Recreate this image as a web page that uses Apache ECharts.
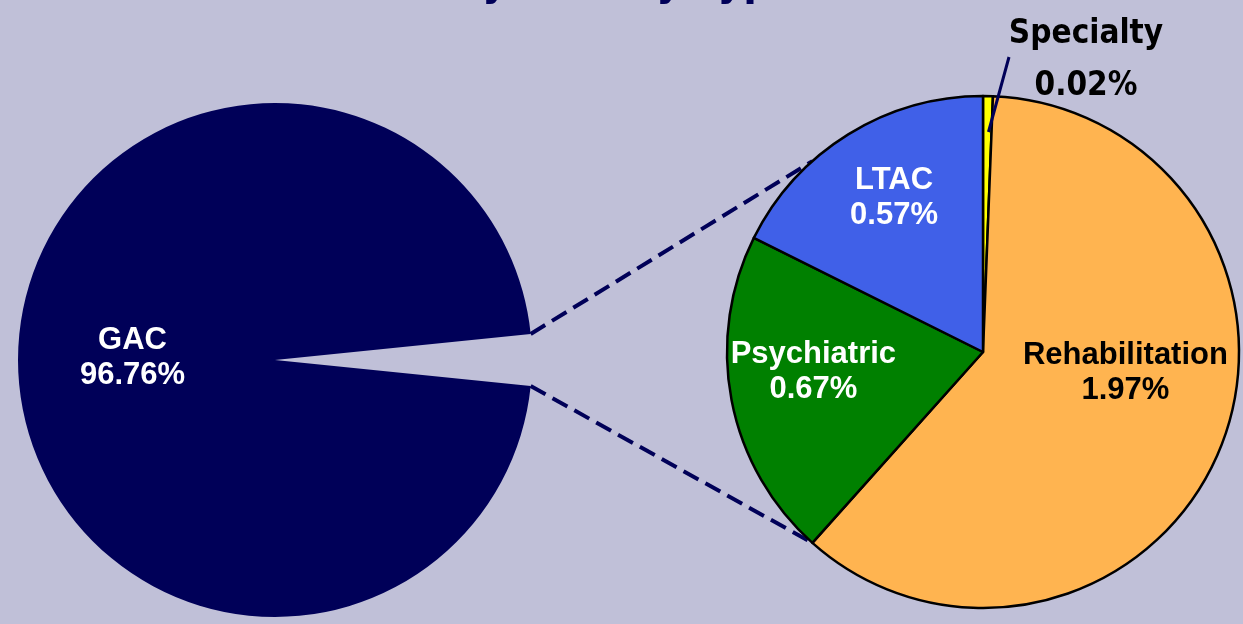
<!DOCTYPE html>
<html>
<head>
<meta charset="utf-8">
<script src="https://cdn.jsdelivr.net/npm/echarts@6/dist/echarts.min.js"></script>
<style>
html, body { margin: 0; padding: 0; background: #c0c0d8; }
#container { width: 1243px; height: 624px; }
</style>
</head>
<body>
<div id="container"></div>
<script>
// data (percent of discharges)
var mainName   = 'GAC';
var mainValue  = 96.76;
var otherNames = ['Specialty', 'Rehabilitation', 'Psychiatric', 'LTAC'];
var otherVals  = [0.02, 1.97, 0.67, 0.57];
var otherColors = ['#ffff00', '#ffb450', '#008000', '#4060e8'];

var dom   = document.getElementById("container");
var chart = echarts.init(dom);

var otherSum = 0;
for (var i in otherVals) otherSum += otherVals[i];

// pie geometry
var leftC  = [275, 360], leftR  = 257;
var rightC = [983, 352], rightR = 256;
var gapHalf = otherSum / (otherSum + mainValue) * 360 / 2;

// label nudges
var nudge = {
    'GAC': [-11, -2],
    'Rehabilitation': [21, -28],
    'Psychiatric': [-41, -5],
    'LTAC': [-20, -43]
};

var rightData = [];
var overlayData = [];
for (var i in otherVals) {
    var small = otherNames[i] == 'Specialty';
    rightData.push({
        name: otherNames[i],
        value: otherVals[i],
        itemStyle: { color: otherColors[i] },
        label: { show: !small, color: i == 1 ? '#000' : '#fff' }
    });
    // transparent copy on top, only carries the Specialty callout
    overlayData.push({
        name: otherNames[i],
        value: otherVals[i],
        label: { show: small },
        labelLine: { show: small }
    });
}

// angle where Rehabilitation ends (dashed lines hit the right pie there)
var rehabEnd = 90 - (otherVals[0] + otherVals[1]) / otherSum * 360;
function pt(c, r, deg) {
    var a = deg * Math.PI / 180;
    return [c[0] + r * Math.cos(a), c[1] - r * Math.sin(a)];
}
var dash = { stroke: '#000058', lineWidth: 4, lineDash: [17, 8], fill: null };

function layoutLabel(params) {
    if (params.seriesIndex == 0 && params.dataIndex == 0) return {};
    var name = params.seriesIndex == 0 ? mainName : otherNames[params.dataIndex];
    var n = nudge[name] || [0, 0];
    return { dx: n[0], dy: n[1] };
}

function layoutCallout(params) {
    var r = params.rect;
    var lx = 1086, ly = 60;
    var p0 = [r.x + r.width * 0.55, r.y + 36];
    var p2 = [lx - 77, ly - 3];
    return {
        x: lx, y: ly, align: 'center', verticalAlign: 'middle',
        labelLinePoints: [p0, [(p0[0] + p2[0]) / 2, (p0[1] + p2[1]) / 2], p2]
    };
}

var insideLabel = {
    position: 'inside',
    formatter: '{b}\n{c}%',
    color: '#fff',
    fontFamily: 'Liberation Sans, Arial, sans-serif',
    fontWeight: 'bold',
    fontSize: 31,
    lineHeight: 35
};

option = {
    backgroundColor: '#c0c0d8',
    animation: false,
    title: {
        text: 'by Facility Type',
        left: 449,
        top: -43,
        textStyle: {
            color: '#000058',
            fontFamily: '"DejaVu Sans Condensed", "DejaVu Sans", sans-serif',
            fontWeight: 'bold',
            fontSize: 44
        }
    },
    series: [
        {
            type: 'pie',
            silent: true,
            center: leftC,
            radius: leftR,
            startAngle: gapHalf,
            clockwise: true,
            avoidLabelOverlap: false,
            label: insideLabel,
            labelLayout: layoutLabel,
            data: [
                { name: '', value: otherSum, itemStyle: { color: 'rgba(0,0,0,0)' }, label: { show: false } },
                { name: mainName, value: mainValue, itemStyle: { color: '#000058' } }
            ]
        },
        {
            type: 'pie',
            silent: true,
            center: rightC,
            radius: rightR,
            startAngle: 90,
            clockwise: true,
            avoidLabelOverlap: false,
            itemStyle: { borderColor: '#000', borderWidth: 2.5 },
            label: insideLabel,
            labelLayout: layoutLabel,
            data: rightData
        },
        {
            type: 'pie',
            silent: true,
            z: 5,
            center: rightC,
            radius: rightR,
            startAngle: 90,
            clockwise: true,
            avoidLabelOverlap: false,
            itemStyle: { color: 'rgba(0,0,0,0)', borderWidth: 0 },
            label: {
                position: 'outside',
                formatter: '{b}\n{c}%',
                color: '#000',
                fontFamily: '"DejaVu Sans Condensed", "DejaVu Sans", sans-serif',
                fontWeight: 'bold',
                fontSize: 33,
                lineHeight: 52
            },
            labelLine: { lineStyle: { color: '#000058', width: 3 } },
            labelLayout: layoutCallout,
            data: overlayData
        }
    ],
    graphic: [
        { type: 'polyline', silent: true, shape: { points: [pt(leftC, leftR, gapHalf), pt(rightC, rightR, -rehabEnd)] }, style: dash },
        { type: 'polyline', silent: true, shape: { points: [pt(leftC, leftR, -gapHalf), pt(rightC, rightR, rehabEnd)] }, style: dash }
    ]
};

chart.setOption(option, true);
</script>
</body>
</html>
